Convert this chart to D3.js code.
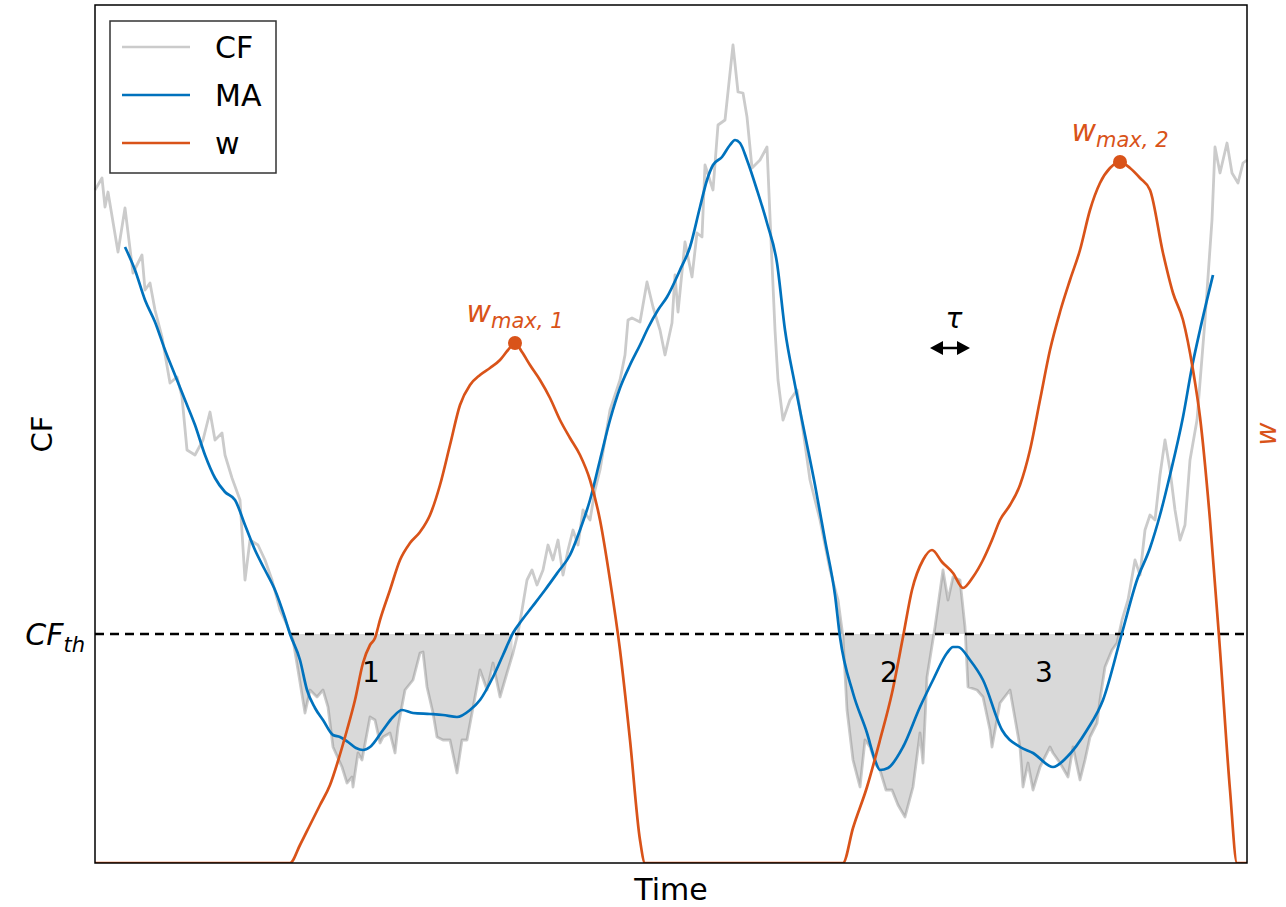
<!DOCTYPE html>
<html>
<head>
<meta charset="utf-8">
<script src="https://cdn.jsdelivr.net/npm/d3@7"></script>
<style>
  body { margin: 0; background: #fff; }
  text { font-family: "DejaVu Sans", sans-serif; }
</style>
</head>
<body>
<div id="chart"></div>
<script>
// raw capacity factor (CF)
var cfTime = [0,7,10,13,23,30,38,47,50,55,60,67,75,82,87,92,100,108,115,120,127,130,137,145,150,155,163,170,177,185,192,198,203,210,215,222,228,233,238,247,252,257,258,263,267,275,280,285,288,295,300,303,310,318,325,328,332,338,342,348,355,362,367,372,385,392,398,405,412,418,423,427,432,437,442,448,453,458,463,468,473,478,483,488,495,500,505,510,515,520,525,530,533,537,545,552,558,565,570,577,580,583,590,597,602,607,610,618,623,630,638,643,648,652,657,665,672,677,680,683,688,695,702,708,715,725,735,743,748,752,758,765,770,775,781,785,791,797,803,810,818,825,828,832,840,848,853,858,865,870,873,882,888,895,897,905,915,925,928,933,938,945,955,958,965,973,978,985,990,995,1002,1005,1010,1017,1022,1027,1033,1040,1045,1050,1055,1060,1065,1070,1075,1080,1085,1090,1095,1102,1110,1117,1120,1125,1132,1137,1143,1148,1152];
var cfValue = [67.3,68.5,65.6,67.1,61.1,65.5,59.0,60.8,57.3,58.0,55.3,52.6,48.0,48.6,46.6,41.3,40.8,42.3,45.1,42.3,43.0,40.8,38.5,36.3,28.3,32.3,31.8,30.3,28.3,25.3,23.8,22.3,19.3,15.0,17.3,16.6,17.3,15.6,11.6,9.6,8.0,8.6,7.6,11.0,10.3,14.6,14.3,12.0,12.6,13.0,11.0,13.6,17.3,18.3,21.0,21.1,17.6,15.0,12.6,12.3,12.3,9.0,12.3,12.3,19.3,17.3,20.0,16.6,19.0,21.0,23.0,25.3,28.3,29.3,27.8,29.3,31.8,30.3,32.3,28.8,31.3,33.3,31.8,35.3,34.3,37.3,39.3,42.3,45.3,46.8,48.3,50.8,54.3,54.5,54.1,58.1,55.6,53.3,50.8,54.0,58.8,55.1,62.1,58.6,63.0,62.6,69.8,67.3,73.8,74.3,81.8,77.1,77.0,74.6,69.5,70.3,71.6,60.0,53.3,48.3,44.3,46.3,47.3,43.3,38.3,34.3,29.3,26.3,22.6,15.3,10.3,7.6,12.3,11.6,9.8,9.3,7.3,7.3,5.8,4.6,7.6,13.0,10.0,18.6,23.6,29.3,26.3,28.6,28.3,23.6,17.6,17.3,16.6,13.3,11.6,16.0,17.3,11.6,7.6,10.0,7.3,9.6,11.6,11.0,10.0,8.6,11.6,8.3,10.3,12.6,14.0,16.3,19.6,21.3,22.0,24.3,26.3,30.3,28.8,33.3,34.8,34.3,38.8,42.3,39.3,35.3,32.3,33.8,40.3,44.3,54.3,64.3,71.6,69.0,72.0,69.0,68.0,70.0,70.3];

// moving average (MA)
var maTime = [30,40,50,60,70,80,90,100,110,120,130,140,150,160,170,180,190,195,205,212,220,228,238,245,253,261,268,275,288,298,307,318,335,348,362,375,385,398,408,418,427,437,450,463,475,485,495,505,515,525,535,545,553,563,572,585,595,605,612,618,627,635,640,645,652,662,672,682,690,700,710,720,730,740,745,758,772,780,785,793,808,825,838,852,858,863,875,888,907,925,938,958,972,992,1008,1027,1042,1055,1065,1075,1088,1097,1105,1118];
var maValue = [61.6,59.3,56.3,54.1,51.3,48.8,46.3,43.8,40.8,38.5,37.1,36.3,33.8,31.3,29.3,27.3,24.5,22.9,20.3,17.3,15.5,14.3,12.8,12.6,12.1,11.5,11.3,11.6,13.3,14.6,15.3,15.0,14.9,14.8,14.6,15.3,16.3,18.6,20.8,23.0,24.3,25.6,27.3,29.1,30.8,33.3,36.3,40.3,44.3,47.5,49.8,51.8,53.5,55.3,56.6,59.3,61.6,65.6,68.3,69.8,70.6,71.8,72.3,72.0,70.3,67.3,64.0,60.0,53.3,47.8,42.8,37.8,32.3,26.8,22.6,17.0,13.0,10.3,9.3,9.5,11.6,15.6,18.3,21.0,21.6,21.6,20.3,18.3,13.3,11.6,11.0,9.6,10.6,13.3,16.3,23.0,28.3,31.5,34.8,38.8,44.6,49.6,53.3,58.8];

// weight w
var wTime = [0,195,205,215,225,235,243,252,260,268,275,280,285,295,305,315,325,335,345,355,365,375,385,395,405,413,420,427,435,445,455,465,475,485,495,505,515,525,535,545,550,748,758,772,785,797,808,817,828,837,847,858,868,878,888,897,905,915,925,935,945,955,965,975,985,995,1005,1015,1025,1035,1045,1055,1068,1078,1088,1098,1105,1115,1125,1135,1142,1152];
var wValue = [0,0,1.8,3.8,5.8,7.8,10.2,13.3,16.3,20.0,21.8,22.5,24.3,27.3,30.3,32.0,33.1,34.8,37.8,41.8,45.8,47.8,48.8,49.5,50.3,51.3,52.0,51.1,49.8,48.3,46.5,44.3,42.5,40.8,38.3,34.3,28.3,21.3,12.3,2.3,0,0,3.5,7.6,12.3,17.0,22.6,27.3,30.3,31.3,30.1,29.0,27.5,28.6,30.3,32.3,34.3,35.8,37.8,41.3,46.3,51.3,55.1,58.3,61.3,65.3,68.0,69.5,70.1,69.5,68.5,67.3,61.0,57.0,54.3,49.3,44.6,34.3,21.3,7.3,0,0];

var cfThreshold = 22.9;

var peakTime = [420, 1025];
var peakValue = [52.0, 70.1];
var peakSub = ["max, 1", "max, 2"];

var eventLabel = ["1", "2", "3"];
var eventLabelTime = [276, 794, 949];
var eventLabelValue = [19.1, 19.1, 19.1];

var tauTime = [835, 875];
var tauValue = 51.5;

var legendNames = ["CF", "MA", "w"];

var svgWidth = 1286;
var svgHeight = 907;
var margin = { top: 5, right: 39, bottom: 44, left: 95 };
var chartWidth = svgWidth - margin.left - margin.right;
var chartHeight = svgHeight - margin.top - margin.bottom;

var colCF = "#cbcbcb";
var colMA = "#0072BD";
var colW = "#D95319";

var svg = d3.select("#chart").append("svg")
  .attr("width", svgWidth)
  .attr("height", svgHeight);

var chartGroup = svg.append("g")
  .attr("transform", `translate(${margin.left},${margin.top})`);

var x = d3.scaleLinear().domain([0, 1152]).range([0, chartWidth]);
var y = d3.scaleLinear().domain([0, 85.8]).range([chartHeight, 0]);
var yW = d3.scaleLinear().domain([0, 85.8]).range([chartHeight, 0]);

var cf = cfTime.map((t, i) => ({ t: t, v: cfValue[i] }));
var ma = maTime.map((t, i) => ({ t: t, v: maValue[i] }));
var w = wTime.map((t, i) => ({ t: t, v: wValue[i] }));

// events: where MA stays below the threshold
var events = [];
var start = null;
for (var i = 1; i < ma.length; i++) {
  var a = ma[i - 1], b = ma[i];
  if ((a.v - cfThreshold) * (b.v - cfThreshold) <= 0 && a.v !== b.v) {
    var tc = a.t + (cfThreshold - a.v) / (b.v - a.v) * (b.t - a.t);
    if (b.v < a.v) start = tc;
    else if (start !== null) { events.push([start, tc]); start = null; }
  }
}

var defs = svg.append("defs");
defs.append("clipPath").attr("id", "plotclip")
  .append("rect").attr("width", chartWidth).attr("height", chartHeight);

var line = d3.line().x(d => x(d.t)).y(d => y(d.v));

// CF raw line
chartGroup.append("path")
  .datum(cf)
  .attr("d", line)
  .attr("fill", "none")
  .attr("stroke", colCF)
  .attr("stroke-width", 2.8)
  .attr("stroke-linejoin", "round");

// shaded events
events.forEach(function(ev, k) {
  var cp = defs.append("clipPath").attr("id", "ev" + k);
  cp.append("rect")
    .attr("x", x(ev[0])).attr("y", 0)
    .attr("width", x(ev[1]) - x(ev[0])).attr("height", chartHeight);
  chartGroup.append("path")
    .datum(cf)
    .attr("clip-path", `url(#ev${k})`)
    .attr("d", d3.area().x(d => x(d.t)).y0(y(cfThreshold)).y1(d => y(d.v)))
    .attr("fill", "#808080")
    .attr("fill-opacity", 0.3);
});

// threshold
chartGroup.append("line")
  .attr("x1", 0).attr("x2", chartWidth)
  .attr("y1", y(cfThreshold)).attr("y2", y(cfThreshold))
  .attr("stroke", "#000")
  .attr("stroke-width", 2.5)
  .attr("stroke-dasharray", "9,6");

// MA line
chartGroup.append("path")
  .datum(ma)
  .attr("d", d3.line().x(d => x(d.t)).y(d => y(d.v)).curve(d3.curveMonotoneX))
  .attr("fill", "none")
  .attr("stroke", colMA)
  .attr("stroke-width", 2.7);

// w line
chartGroup.append("path")
  .datum(w)
  .attr("clip-path", "url(#plotclip)")
  .attr("d", d3.line().x(d => x(d.t)).y(d => yW(d.v)).curve(d3.curveMonotoneX))
  .attr("fill", "none")
  .attr("stroke", colW)
  .attr("stroke-width", 2.7);

// w maxima
peakTime.forEach(function(t, k) {
  chartGroup.append("circle")
    .attr("cx", x(t)).attr("cy", yW(peakValue[k]))
    .attr("r", 7).attr("fill", colW);
  var lab = chartGroup.append("text")
    .attr("x", x(t)).attr("y", yW(peakValue[k]) - 21)
    .attr("text-anchor", "middle")
    .attr("fill", colW)
    .style("font-style", "italic");
  lab.append("tspan").style("font-size", "30px").text("w");
  lab.append("tspan").attr("dy", 6).style("font-size", "21px").text(peakSub[k]);
});

// event numbers
eventLabel.forEach(function(s, k) {
  chartGroup.append("text")
    .attr("x", x(eventLabelTime[k])).attr("y", y(eventLabelValue[k]))
    .attr("dy", "0.36em")
    .attr("text-anchor", "middle")
    .style("font-size", "28px")
    .text(s);
});

// tau arrow
var ty = y(tauValue);
var tx0 = x(tauTime[0]), tx1 = x(tauTime[1]);
chartGroup.append("line")
  .attr("x1", tx0 + 8).attr("x2", tx1 - 8)
  .attr("y1", ty).attr("y2", ty)
  .attr("stroke", "#000").attr("stroke-width", 2.5);
chartGroup.append("path")
  .attr("d", `M${tx0},${ty} L${tx0 + 13},${ty - 7} L${tx0 + 13},${ty + 7} Z M${tx1},${ty} L${tx1 - 13},${ty - 7} L${tx1 - 13},${ty + 7} Z`)
  .attr("fill", "#000");
chartGroup.append("text")
  .attr("x", (tx0 + tx1) / 2 + 4).attr("y", ty - 20)
  .attr("text-anchor", "middle")
  .style("font-size", "28px")
  .style("font-style", "italic")
  .text("τ");

// frame
chartGroup.append("rect")
  .attr("width", chartWidth).attr("height", chartHeight)
  .attr("fill", "none").attr("stroke", "#000").attr("stroke-width", 1.5);

// CF_th label
var th = chartGroup.append("text")
  .attr("x", -10).attr("y", y(cfThreshold) + 11)
  .attr("text-anchor", "end")
  .style("font-style", "italic");
th.append("tspan").style("font-size", "30px").text("CF");
th.append("tspan").attr("dy", 7).style("font-size", "21px").text("th");

// axis labels
svg.append("text")
  .attr("transform", `translate(42,${margin.top + chartHeight / 2}) rotate(-90)`)
  .attr("dy", "0.36em")
  .attr("text-anchor", "middle")
  .style("font-size", "29px")
  .text("CF");

svg.append("text")
  .attr("transform", `translate(1268,${margin.top + chartHeight / 2}) rotate(-90)`)
  .attr("dy", "0.27em")
  .attr("text-anchor", "middle")
  .attr("fill", colW)
  .style("font-size", "28px")
  .style("font-style", "italic")
  .text("w");

svg.append("text")
  .attr("x", margin.left + chartWidth / 2)
  .attr("y", svgHeight - 7)
  .attr("text-anchor", "middle")
  .style("font-size", "30px")
  .text("Time");

// legend
var legend = chartGroup.append("g").attr("transform", "translate(15,16)");
legend.append("rect")
  .attr("width", 166).attr("height", 152)
  .attr("fill", "#fff").attr("stroke", "#333").attr("stroke-width", 1.5);
[colCF, colMA, colW].forEach(function(c, k) {
  legend.append("line")
    .attr("x1", 12).attr("x2", 80)
    .attr("y1", 26 + k * 48).attr("y2", 26 + k * 48)
    .attr("stroke", c).attr("stroke-width", 2.7);
  legend.append("text")
    .attr("x", 105).attr("y", 26 + k * 48)
    .attr("dy", "0.36em")
    .style("font-size", "30px")
    .text(legendNames[k]);
});
</script>
</body>
</html>
